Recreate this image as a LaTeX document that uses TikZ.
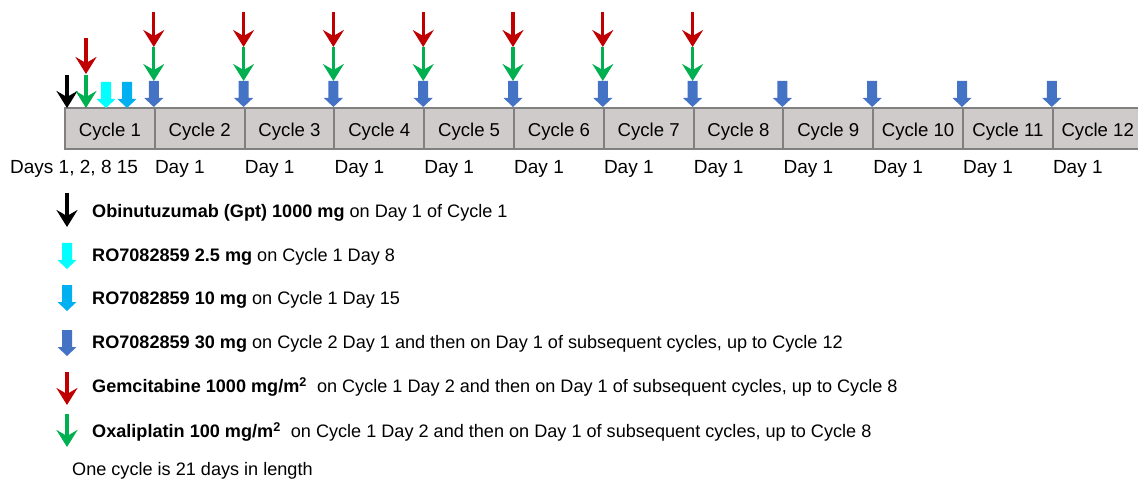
\documentclass[tikz,border=0pt]{standalone}
\usepackage{fontspec}
\setmainfont{Liberation Sans}
\usetikzlibrary{arrows.meta}

\definecolor{cellfill}{RGB}{208,203,203}
\definecolor{cellline}{RGB}{128,128,128}
\definecolor{doseblue}{RGB}{68,114,196}
\definecolor{dosecyan}{RGB}{0,255,255}
\definecolor{doselight}{RGB}{0,176,240}
\definecolor{dosered}{RGB}{192,0,0}
\definecolor{dosegreen}{RGB}{0,176,80}

\tikzset{
  cell/.style={draw=cellline, line width=2pt, fill=cellfill, minimum width=89.8pt,
    minimum height=41pt, inner sep=0pt, font=\fontsize{18.6}{20}\selectfont},
  daylbl/.style={anchor=west, inner sep=0pt, font=\fontsize{19}{20}\selectfont},
  legtxt/.style={anchor=west, inner sep=0pt, font=\fontsize{18.1}{20}\selectfont},
  linearr/.style={line width=3.2pt, -{Stealth[length=17pt, width=21pt, inset=6pt]}},
  % fat block arrow, tip at the pic origin, pointing down
  pics/blockarr/.style={code={
    \fill[#1] (0,0) -- (-9.5,-9) -- (-5,-9) -- (-5,-26) -- (5,-26) -- (5,-9) -- (9.5,-9) -- cycle;
  }}
}

\begin{document}
\begin{tikzpicture}[x=1pt, y=-1pt]
\useasboundingbox (0,0) rectangle (1138,481);

% cycle cells
\foreach \i in {1,...,12}{
  \node[cell, text depth=0pt] (c\i) at ({65+89.8*(\i-0.5)},128.5) {\raisebox{-3pt}{Cycle \i}};
}

% start-of-cycle coordinates on the top edge
\foreach \i in {2,...,12}{
  \coordinate (t\i) at (c\i.north west);
}

% cycle 1 doses
\coordinate (d1) at (67,108);
\coordinate (d2) at (86,108);
\coordinate (d8) at (106,108);
\coordinate (d15) at (127,108);
\coordinate (k1) at (67,75);
\coordinate (g1) at (86,75);
\coordinate (r1a) at (86,38);
\coordinate (r1b) at (86,74);
\draw[linearr, black] (k1) -- (d1);
\draw[linearr, dosegreen] (g1) -- (d2);
\draw[linearr, dosered] (r1a) -- (r1b);
\pic at (d8) {blockarr=dosecyan};
\pic at (d15) {blockarr=doselight};

% day 1 of later cycles
\foreach \i in {2,...,12}{
  \pic at (t\i) {blockarr=doseblue};
}
\foreach \i in {2,...,8}{
  \coordinate (gs\i) at ([yshift=60pt]t\i);
  \coordinate (ge\i) at ([yshift=26pt]t\i);
  \coordinate (rs\i) at ([yshift=95pt]t\i);
  \coordinate (re\i) at ([yshift=60pt]t\i);
  \draw[linearr, dosegreen] (gs\i) -- (ge\i);
  \draw[linearr, dosered] (rs\i) -- (re\i);
}

% day labels
\node[daylbl] (days1) at (10,169) {Days 1, 2, 8 15};
\foreach \i in {2,...,12}{
  \node[daylbl] (day\i) at ([xshift=1pt]c\i.south west |- 0,169) {Day 1};
}

% legend
\coordinate (la1) at (67,193);  \coordinate (lb1) at (67,227);
\draw[linearr, black] (la1) -- (lb1);
\node[legtxt] (leg1) at (92,213) {\textbf{Obinutuzumab (Gpt) 1000 mg} on Day 1 of Cycle 1};

\pic at (67,269) {blockarr=dosecyan};
\node[legtxt] (leg2) at (92,257) {\textbf{RO7082859 2.5 mg} on Cycle 1 Day 8};

\pic at (67,311) {blockarr=doselight};
\node[legtxt] (leg3) at (92,300) {\textbf{RO7082859 10 mg} on Cycle 1 Day 15};

\pic at (67,356) {blockarr=doseblue};
\node[legtxt] (leg4) at (92,344) {\textbf{RO7082859 30 mg} on Cycle 2 Day 1 and then on Day 1 of subsequent cycles, up to Cycle 12};

\coordinate (la5) at (67,372);  \coordinate (lb5) at (67,405);
\draw[linearr, dosered] (la5) -- (lb5);
\node[legtxt] (leg5) at (92,387) {\textbf{Gemcitabine 1000 mg/m\textsuperscript{2}}\ \ on Cycle 1 Day 2 and then on Day 1 of subsequent cycles, up to Cycle 8};

\coordinate (la6) at (67,414);  \coordinate (lb6) at (67,447);
\draw[linearr, dosegreen] (la6) -- (lb6);
\node[legtxt] (leg6) at (92,432) {\textbf{Oxaliplatin 100 mg/m\textsuperscript{2}}\ \ on Cycle 1 Day 2 and then on Day 1 of subsequent cycles, up to Cycle 8};

\node[legtxt] (note) at (72,471) {One cycle is 21 days in length};
\end{tikzpicture}
\end{document}
